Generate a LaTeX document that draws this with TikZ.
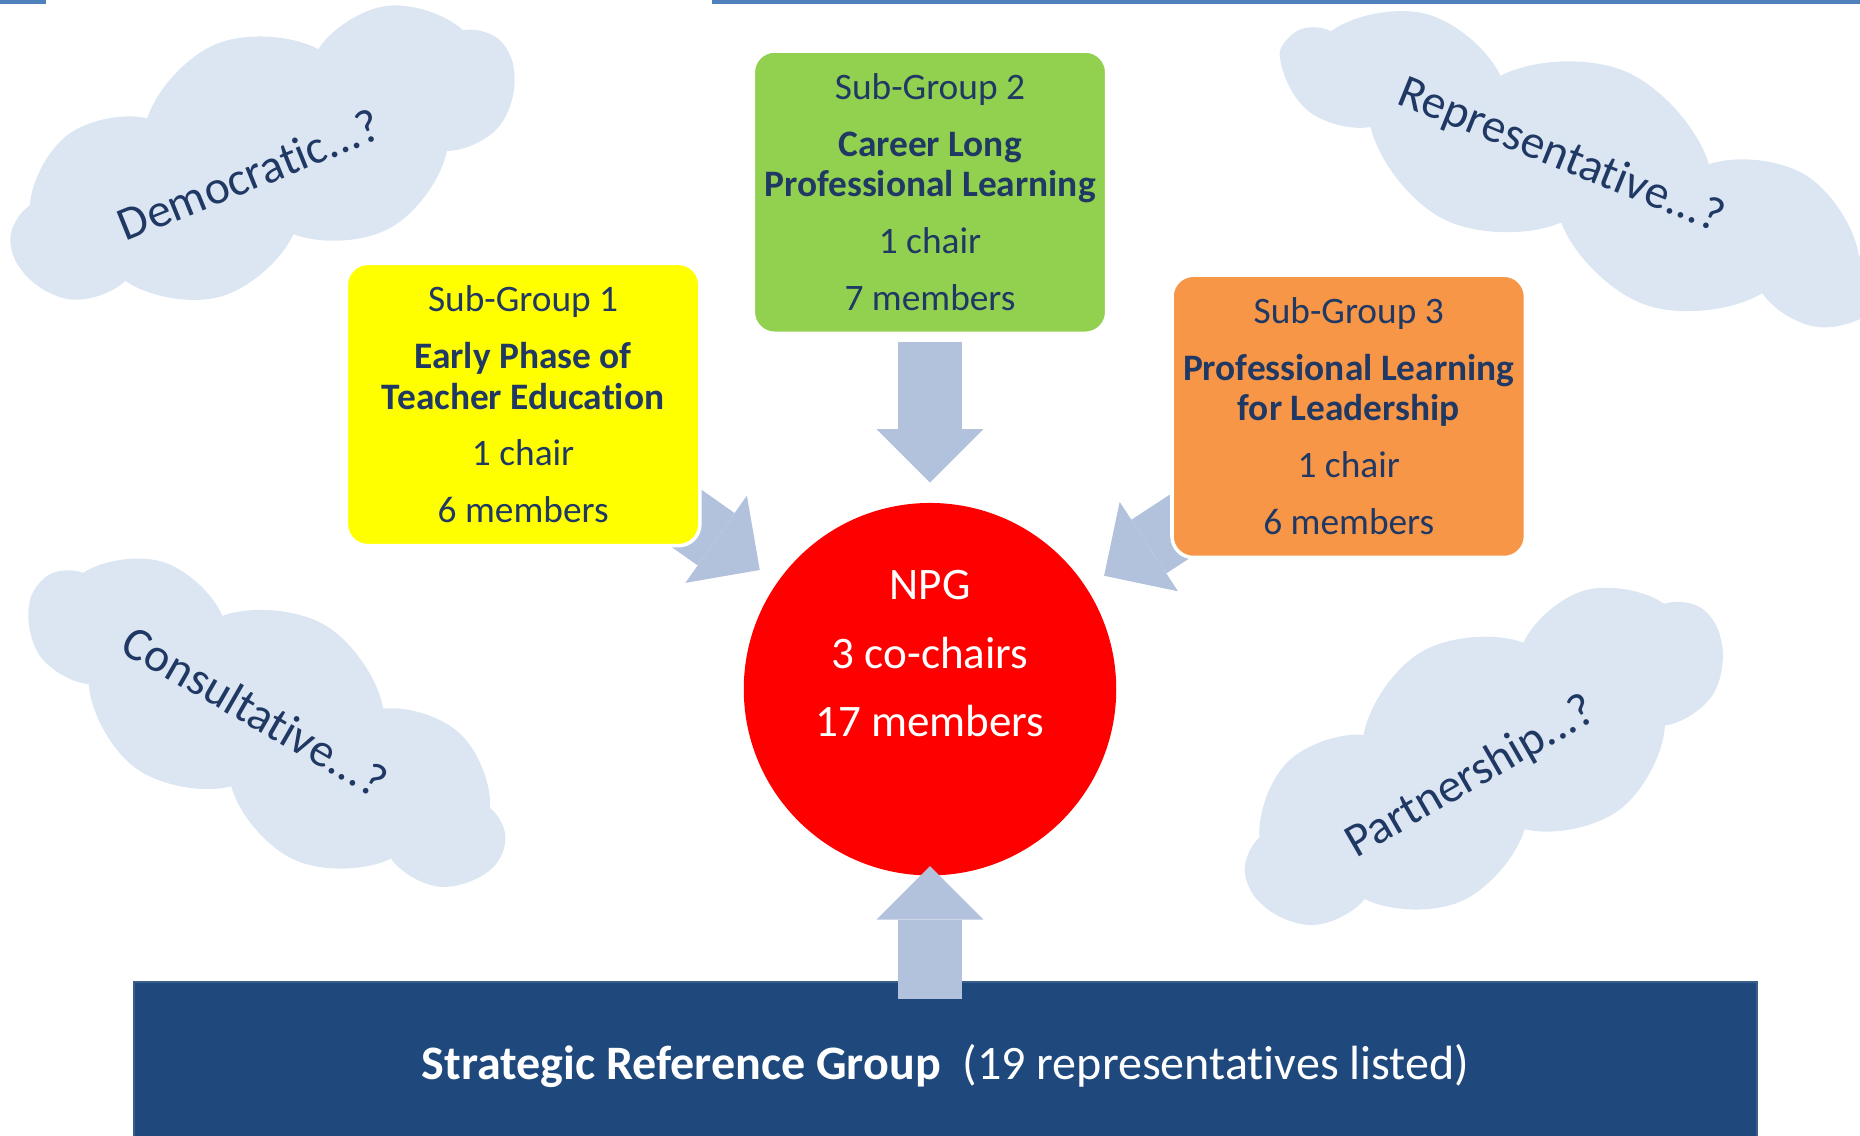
\documentclass[tikz,border=0pt]{standalone}
\usepackage{fontspec}
\setmainfont{Carlito}[Ligatures=NoCommon]
\usepackage{tikz}
\usetikzlibrary{positioning, shapes.geometric, shapes.symbols, arrows.meta, backgrounds}
\usepackage{xcolor}
\definecolor{navytext}{HTML}{1F3864}
\definecolor{cloudblue}{HTML}{DCE6F2}
\definecolor{arrowblue}{HTML}{B2C2DD}
\definecolor{sgyellow}{HTML}{FFFF00}
\definecolor{sggreen}{HTML}{92D050}
\definecolor{sgorange}{HTML}{F79646}
\definecolor{npgred}{HTML}{FF0000}
\definecolor{srgblue}{HTML}{1F497D}
\definecolor{srgedge}{HTML}{3A5F8C}
\definecolor{topblue}{HTML}{4F81BD}
\tikzstyle{subgroup} = [rectangle, rounded corners=18pt, minimum width=298pt, minimum height=238pt, inner sep=0pt, align=center, draw=white, line width=3pt, text=navytext, font=\fontsize{31.5}{34}\selectfont]
\tikzstyle{thought} = [cloud, cloud puffs=9, cloud puff arc=100, aspect=2.4, minimum width=450pt, minimum height=205pt, inner sep=0pt, fill=cloudblue]
\tikzstyle{thoughttext} = [text=navytext, font=\fontsize{40}{46}\selectfont]
\tikzstyle{blockarrow} = [line width=54pt, draw=arrowblue, -{Triangle[width=90pt, length=45pt, line width=0pt]}]
\tikzstyle{npgtext} = [text=white, align=center, font=\fontsize{38}{58}\selectfont]

\begin{document}
\begin{tikzpicture}[x=1pt, y=-1pt]
    \useasboundingbox (0,0) rectangle (1568,957);
    \clip (0,0) rectangle (1568,957);
    \draw [topblue, line width=3.4pt] (0,1.7) -- (39,1.7) (600,1.7) -- (1568,1.7);

    % clouds
    \node (democratic) [thought, rotate=22, label={[thoughttext, rotate=22, xshift=-16pt, yshift=-10pt]center:Democratic...?}] at (221,132) {};
    \node (representative) [thought, rotate=-23, minimum width=540pt, minimum height=180pt, label={[thoughttext, rotate=-22, xshift=-22pt, yshift=3pt]center:Representative...?}] at (1335,143) {};
    \node (consultative) [thought, rotate=-30, minimum height=190pt, label={[thoughttext, rotate=-30, xshift=-14pt, yshift=3pt]center:Consultative...?}] at (226,609) {};
    \node (partnership) [thought, rotate=30, label={[thoughttext, rotate=30, xshift=-17pt, yshift=-10pt]center:Partnership...?}] at (1250,638) {};

    % groups
    \node (npg) [circle, fill=npgred, minimum size=314pt, inner sep=0pt, label={[npgtext, yshift=30pt]center:{NPG\\3 co-chairs\\17 members}}] at (784,581) {};
    \node (sg1) [subgroup, fill=sgyellow] at (441,341) {Sub-Group 1\\[14pt]\textbf{Early Phase of}\\\textbf{Teacher Education}\\[14pt]1 chair\\[14pt]6 members};
    \node (sg2) [subgroup, fill=sggreen] at (784,162) {Sub-Group 2\\[14pt]\textbf{Career Long}\\\textbf{Professional Learning}\\[14pt]1 chair\\[14pt]7 members};
    \node (sg3) [subgroup, fill=sgorange] at (1137,351) {Sub-Group 3\\[14pt]\textbf{Professional Learning}\\\textbf{for Leadership}\\[14pt]1 chair\\[14pt]6 members};
    \node (srg) [rectangle, fill=srgblue, draw=srgedge, line width=2pt, minimum width=1368pt, minimum height=142pt, text=white, font=\fontsize{40.5}{48}\selectfont] at (797,899) {\textbf{Strategic Reference Group}\ \ (19 representatives listed)};

    \begin{scope}[on background layer]
        \draw [blockarrow, shorten <=-40pt, shorten >=18pt] (sg1) -- (npg);
        \draw [blockarrow, shorten <=6pt, shorten >=17pt] (sg2) -- (npg);
        \draw [blockarrow, shorten <=-40pt, shorten >=18pt] (sg3) -- (npg);
    \end{scope}
    \draw [blockarrow, shorten <=-15pt, shorten >=-8pt] (srg.north -| npg.south) -- (npg.south);
\end{tikzpicture}
\end{document}
